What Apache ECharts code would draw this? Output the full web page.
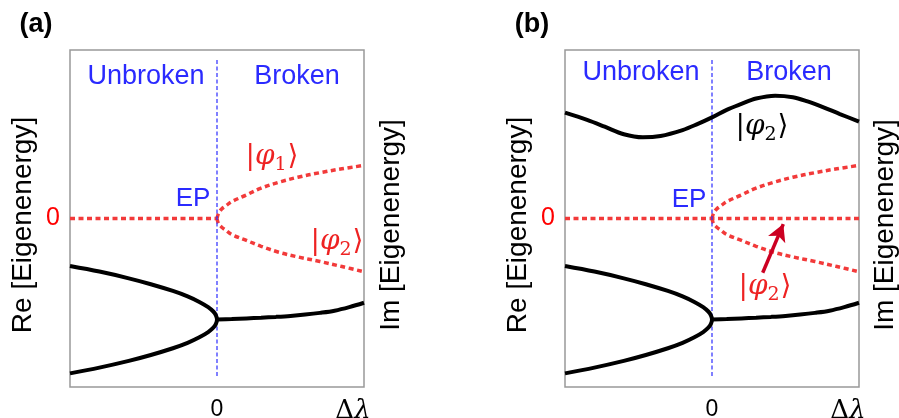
<!DOCTYPE html>
<html><head><meta charset="utf-8">
<script src="https://cdn.jsdelivr.net/npm/echarts@6/dist/echarts.min.js"></script>
<style>html,body{margin:0;padding:0;background:#fff}#c{width:899px;height:418px}</style>
</head><body><div id="c"></div>
<script>
// ---- data ----
const xTicks = [-1, 0, 1];
const xTickLabels = ['', '0', 'Δλ'];
const yTicks = [-1, 0, 1];
const yTickLabels = ['', '0', ''];

const zeroLineA = [[-1, 0], [0, 0]];
const zeroLineB = [[-1, 0], [1, 0]];
const redUpper = [[0,0],[0.01,0.03],[0.03,0.055],[0.06,0.075],[0.1,0.1],[0.2,0.14],[0.3,0.18],[0.42,0.215],[0.55,0.245],[0.7,0.272],[0.85,0.295],[1,0.315]];
const redLower = [[0,0],[0.01,-0.03],[0.03,-0.05],[0.06,-0.07],[0.1,-0.095],[0.2,-0.13],[0.3,-0.165],[0.42,-0.2],[0.55,-0.228],[0.7,-0.255],[0.85,-0.285],[1,-0.316]];
const blackLeft = [[-1,-0.282],[-0.8,-0.315],[-0.6,-0.355],[-0.45,-0.39],[-0.3,-0.43],[-0.2,-0.462],[-0.12,-0.495],[-0.06,-0.526],[-0.025,-0.552],[-0.008,-0.573],[0,-0.6],
                   [-0.008,-0.627],[-0.025,-0.648],[-0.06,-0.674],[-0.12,-0.705],[-0.2,-0.738],[-0.3,-0.77],[-0.45,-0.81],[-0.6,-0.845],[-0.8,-0.885],[-1,-0.919]];
const blackRight = [[0,-0.6],[0.1,-0.597],[0.2,-0.593],[0.3,-0.589],[0.4,-0.584],[0.5,-0.578],[0.6,-0.57],[0.7,-0.56],[0.8,-0.547],[0.9,-0.526],[1,-0.5]];
const waveB = [[-1,0.628],[-0.85,0.585],[-0.73,0.545],[-0.6,0.5],[-0.47,0.482],[-0.35,0.49],[-0.2,0.525],[-0.1,0.56],[0,0.6],[0.1,0.645],[0.2,0.68],[0.3,0.712],[0.43,0.729],[0.55,0.72],[0.65,0.695],[0.75,0.663],[0.87,0.62],[1,0.575]];
const epLine = [[0, 0.94], [0, -0.947]];
const arrowB = [[0.345, -0.322], [0.485, -0.033]];

// ---- styles ----
const RED = '#f23a3a', BLUE = '#2a2aff', BLACK = '#000';
const SANS = 'Liberation Sans, Arial, Helvetica, sans-serif';
const SERIF = 'DejaVu Serif, Liberation Serif, serif';

function xAxis(gi) {
  return {
    type: 'value', gridIndex: gi, min: -1, max: 1, interval: 1,
    axisLine: {show: false}, axisTick: {show: false}, splitLine: {show: false},
    axisLabel: {
      margin: 11, color: '#000', fontFamily: SANS, fontSize: 22,
      formatter: v => {
        const i = xTicks.indexOf(v);
        const t = i < 0 ? '' : xTickLabels[i];
        if (t === 'Δλ') return '{D|Δ}{L|λ}';
        if (t === '') return '';
        return '{Z|' + t + '}';
      },
      rich: {
        Z: {fontFamily: SANS, fontSize: 23, color: '#000'},
        D: {fontFamily: SERIF, fontSize: 26, color: '#000'},
        L: {fontFamily: SERIF, fontStyle: 'italic', fontSize: 26, color: '#000', padding: [0, 22, 0, 0]}
      }
    }
  };
}
function yAxis(gi) {
  return {
    type: 'value', gridIndex: gi, min: -1, max: 1, interval: 1,
    axisLine: {show: false}, axisTick: {show: false}, splitLine: {show: false},
    axisLabel: {
      margin: 10, color: '#ff0000', fontFamily: SANS, fontSize: 25,
      formatter: v => { const i = yTicks.indexOf(v); return i < 0 ? '' : yTickLabels[i]; }
    }
  };
}
function line(gi, data, color, width, type, smooth) {
  return {
    type: 'line', xAxisIndex: gi, yAxisIndex: gi, data: data, showSymbol: false, symbol: 'none',
    smooth: smooth === undefined ? 0.35 : smooth, silent: true, color: color,
    itemStyle: {color: color},
    lineStyle: {color: color, width: width, type: type, opacity: 1}
  };
}
const dash = [5, 3.5];
const series = [];
[0, 1].forEach(gi => {
  series.push(line(gi, gi === 0 ? zeroLineA : zeroLineB, RED, 3.5, dash, false));
  series.push(line(gi, redUpper, RED, 3.5, dash));
  series.push(line(gi, redLower, RED, 3.5, dash));
  series.push(line(gi, epLine, BLUE, 1.2, [4, 2.5], false));
  series.push(line(gi, blackLeft, BLACK, 4));
  series.push(line(gi, blackRight, BLACK, 4));
});
const wave = line(1, waveB, BLACK, 4);
wave.markLine = {
  silent: true, symbol: ['none', 'arrow'], symbolSize: [14, 17], animation: false,
  label: {show: false},
  lineStyle: {color: '#cc0022', width: 3.5, type: 'solid'},
  data: [[{coord: arrowB[0]}, {coord: arrowB[1]}]]
};
series.push(wave);

function txt(x, y, text, size, color, extra) {
  return {
    type: 'text', x: x, y: y, silent: true,
    style: Object.assign({text: text, fontSize: size, fill: color, fontFamily: SANS, align: 'center', verticalAlign: 'middle'}, extra || {})
  };
}
function rot(x, y, text) {
  const t = txt(x, y, text, 28, '#000');
  t.rotation = Math.PI / 2;
  return t;
}
function ket(x, y, idx, color) {
  return {
    type: 'text', x: x, y: y, silent: true,
    style: {
      text: '{b||}{p|φ}{s|' + idx + '}{b|⟩}',
      align: 'center', verticalAlign: 'middle', fill: color,
      rich: {
        b: {fontFamily: SERIF, fontSize: 28, fill: color, color: color},
        p: {fontFamily: SERIF, fontStyle: 'italic', fontSize: 28, fill: color, color: color},
        s: {fontFamily: SERIF, fontSize: 19, fill: color, color: color, padding: [16, 1, 0, 0]}
      }
    }
  };
}

const chart = echarts.init(document.getElementById('c'), null, {renderer: 'canvas'});
chart.setOption({
  animation: false,
  backgroundColor: '#fff',
  grid: [
    {left: 70, top: 50, width: 294, height: 337, show: true, borderColor: '#999', borderWidth: 1.5, backgroundColor: '#fff', outerBoundsMode: 'none', containLabel: false},
    {left: 565, top: 50, width: 294, height: 337, show: true, borderColor: '#999', borderWidth: 1.5, backgroundColor: '#fff', outerBoundsMode: 'none', containLabel: false}
  ],
  xAxis: [xAxis(0), xAxis(1)],
  yAxis: [yAxis(0), yAxis(1)],
  series: series,
  graphic: [
    txt(36, 25, '(a)', 27, '#000', {fontWeight: 'bold'}),
    txt(532, 25, '(b)', 27, '#000', {fontWeight: 'bold'}),
    txt(146, 77, 'Unbroken', 27, BLUE),
    txt(297, 77, 'Broken', 27, BLUE),
    txt(641, 73, 'Unbroken', 27, BLUE),
    txt(789, 73, 'Broken', 27, BLUE),
    txt(193, 199, 'EP', 26, BLUE),
    txt(689, 200, 'EP', 26, BLUE),
    rot(23, 225, 'Re [Eigenenergy]'),
    rot(391, 225, 'Im [Eigenenergy]'),
    rot(518, 225, 'Re [Eigenenergy]'),
    rot(885, 225, 'Im [Eigenenergy]'),
    ket(272, 157, '1', '#ee2222'),
    ket(337, 242, '2', '#ee2222'),
    ket(762, 127, '2', '#000'),
    ket(765, 287, '2', '#ee2222')
  ]
});
</script>
</body></html>
